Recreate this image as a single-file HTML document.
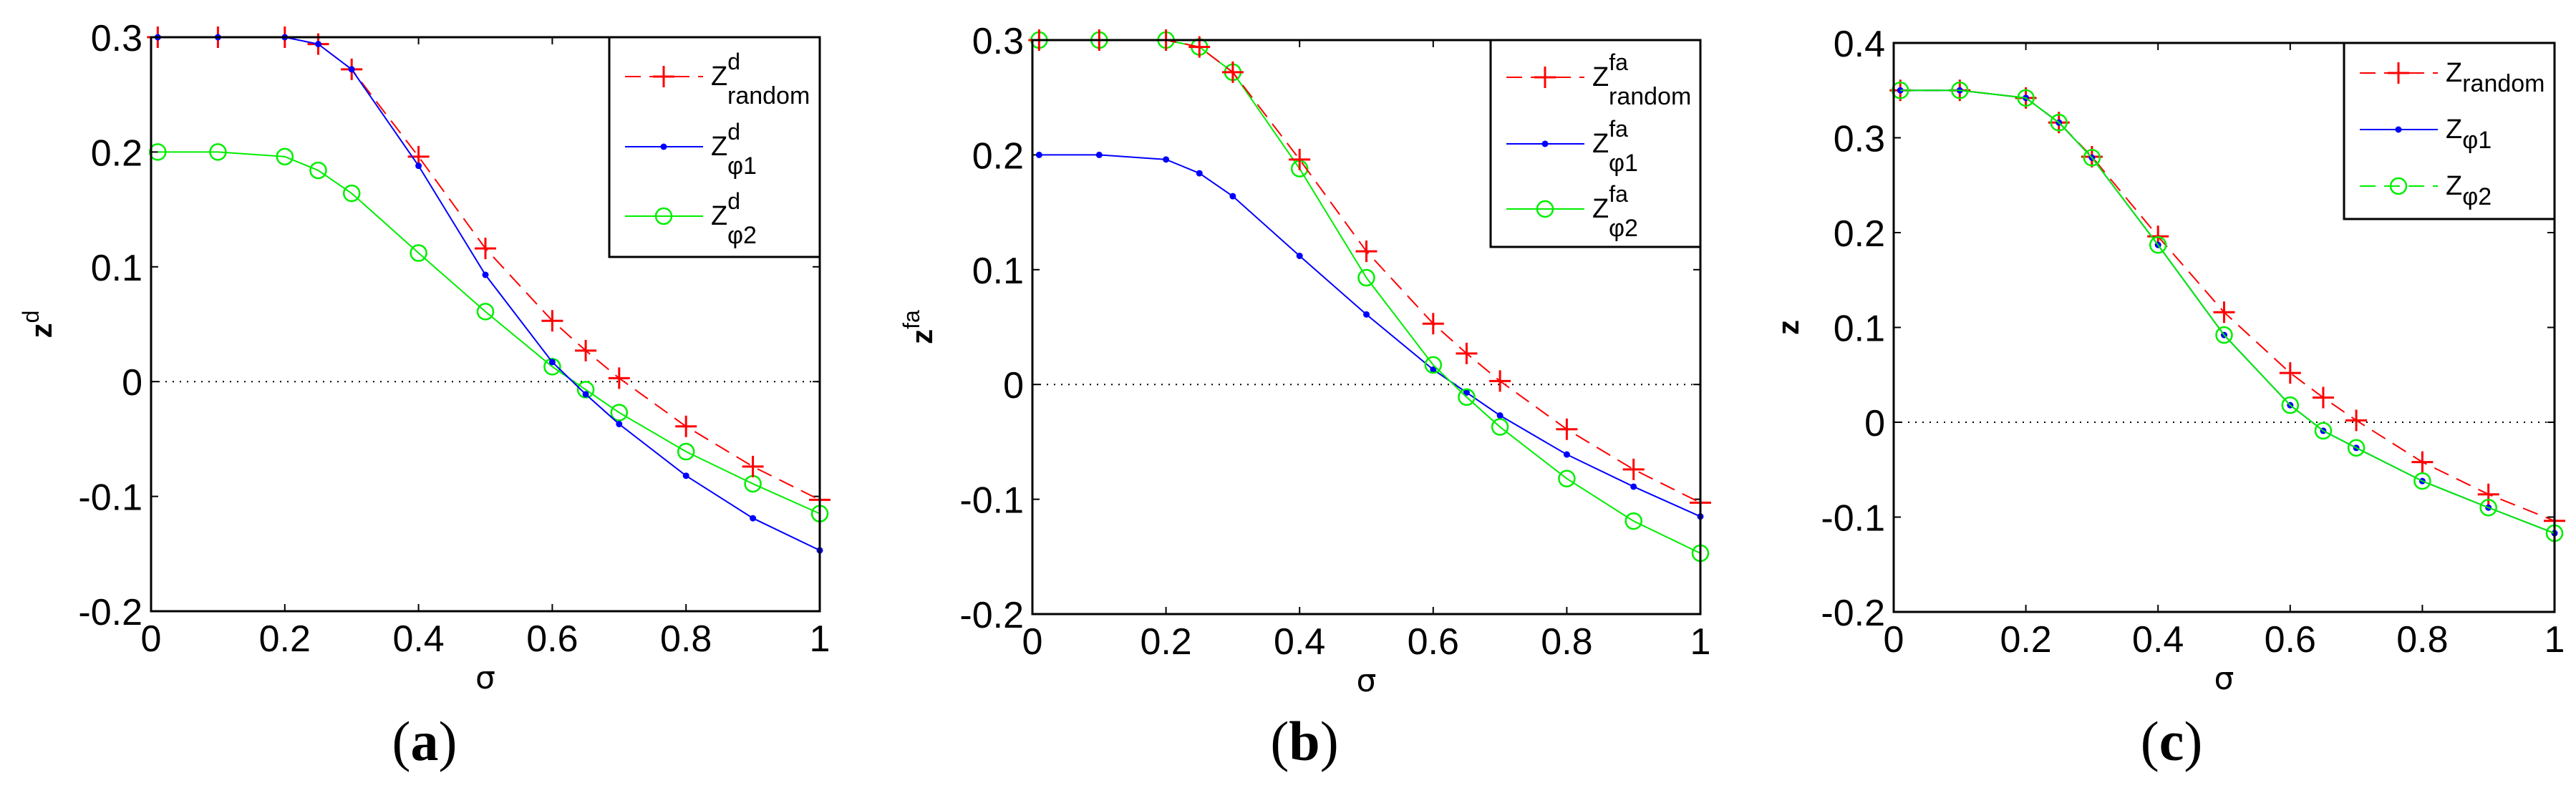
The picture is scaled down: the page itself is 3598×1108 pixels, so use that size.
<!DOCTYPE html>
<html><head><meta charset="utf-8"><style>
html,body{margin:0;padding:0;background:#fff;}
svg{display:block;}
text{font-family:"Liberation Sans",sans-serif;}
</style></head><body>
<svg id="fig" width="3598" height="1108" viewBox="0 0 3598 1108" xmlns="http://www.w3.org/2000/svg"></svg>
<script>
const sigma = [0.01,0.1,0.2,0.25,0.3,0.4,0.5,0.6,0.65,0.7,0.8,0.9,1];
const xTicks = [0,0.2,0.4,0.6,0.8,1];
const xTickLabels = ["0","0.2","0.4","0.6","0.8","1"];
const yTicksAB = [-0.2,-0.1,0,0.1,0.2,0.3];
const yTickLabelsAB = ["-0.2","-0.1","0","0.1","0.2","0.3"];
const yTicksC = [-0.2,-0.1,0,0.1,0.2,0.3,0.4];
const yTickLabelsC = ["-0.2","-0.1","0","0.1","0.2","0.3","0.4"];
const aRandom = [0.3,0.3,0.3,0.294,0.272,0.196,0.116,0.053,0.027,0.003,-0.039,-0.074,-0.103];
const aPhi1 = [0.3,0.3,0.3,0.294,0.272,0.188,0.093,0.017,-0.011,-0.037,-0.082,-0.119,-0.147];
const aPhi2 = [0.2,0.2,0.196,0.184,0.164,0.112,0.061,0.013,-0.007,-0.027,-0.061,-0.089,-0.115];
const bRandom = [0.3,0.3,0.3,0.294,0.272,0.196,0.116,0.053,0.027,0.003,-0.039,-0.074,-0.103];
const bPhi1 = [0.2,0.2,0.196,0.184,0.164,0.112,0.061,0.013,-0.007,-0.027,-0.061,-0.089,-0.115];
const bPhi2 = [0.3,0.3,0.3,0.294,0.272,0.188,0.093,0.017,-0.011,-0.037,-0.082,-0.119,-0.147];
const cRandom = [0.35,0.35,0.342,0.316,0.28,0.196,0.116,0.052,0.026,0.002,-0.042,-0.076,-0.104];
const cPhi1 = [0.35,0.35,0.342,0.316,0.279,0.187,0.092,0.018,-0.009,-0.027,-0.062,-0.09,-0.117];
const cPhi2 = [0.35,0.35,0.342,0.316,0.279,0.187,0.092,0.018,-0.009,-0.027,-0.062,-0.09,-0.117];

const NS="http://www.w3.org/2000/svg";
const svg=document.getElementById('fig');
function mk(tag,attrs,parent,txt){const e=document.createElementNS(NS,tag);for(const k in attrs)e.setAttribute(k,attrs[k]);if(txt!==undefined)e.textContent=txt;(parent||svg).appendChild(e);return e;}

function marker(g,kind,x,y,color){
  if(kind==='plus'){
    const p=mk('path',{d:`M${x-15},${y}H${x+15}M${x},${y-15}V${y+15}`,stroke:color,'stroke-width':3,fill:'none'},g);
    
  }else if(kind==='circle'){
    const c=mk('circle',{cx:x,cy:y,r:11,stroke:color,'stroke-width':2.5,fill:'none'},g);
    
  }else{
    const c=mk('circle',{cx:x,cy:y,r:4.5,fill:color},g);
    
  }
}

function panel(cfg){
  const g=mk('g',{});
  
  
  const L=cfg.L,R=cfg.R,T=cfg.T,B=cfg.B,ymin=cfg.ymin,ymax=cfg.ymax;
  const sx=v=>L+(v-0)*(R-L)/1;
  const sy=v=>B-(v-ymin)*(B-T)/(ymax-ymin);
  const z=mk('line',{x1:L,x2:R,y1:sy(0),y2:sy(0),stroke:'#000','stroke-width':2,'stroke-dasharray':'2,8'},g);
  
  xTicks.forEach((t,i)=>{
    const x=sx(t);
    mk('line',{x1:x,x2:x,y1:B,y2:B-10,stroke:'#000','stroke-width':2},g);
    mk('line',{x1:x,x2:x,y1:T,y2:T+10,stroke:'#000','stroke-width':2},g);
    const tx=mk('text',{x:x,y:B+56,'text-anchor':'middle','font-size':52},g,xTickLabels[i]);
    
  });
  cfg.yTicks.forEach((t,i)=>{
    const y=sy(t);
    mk('line',{x1:L,x2:L+10,y1:y,y2:y,stroke:'#000','stroke-width':2},g);
    mk('line',{x1:R,x2:R-10,y1:y,y2:y,stroke:'#000','stroke-width':2},g);
    const tx=mk('text',{x:L-12,y:y+19,'text-anchor':'end','font-size':52},g,cfg.yTickLabels[i]);
    
  });
  const series=[
    {vals:cfg.random,color:'#ff0000',dash:'22,12',mk:'plus',name:'series-random'},
    {vals:cfg.phi1,color:'#0000ff',dash:null,mk:'dot',name:'series-phi1'},
    {vals:cfg.phi2,color:'#00ee00',dash:null,mk:'circle',name:'series-phi2'}];
  const order=cfg.order||[0,1,2];
  order.forEach(k=>{
    const s=series[k];
    const sg=mk('g',{},g);
    
    const pts=s.vals.map((v,i)=>sx(sigma[i])+','+sy(v)).join(' ');
    const pl=mk('polyline',{points:pts,fill:'none',stroke:s.color,'stroke-width':2},sg);
    if(s.dash)pl.setAttribute('stroke-dasharray',s.dash);
    
    s.vals.forEach((v,i)=>marker(sg,s.mk,sx(sigma[i]),sy(v),s.color));
  });
  const fr=mk('rect',{x:L,y:T,width:R-L,height:B-T,fill:'none',stroke:'#000','stroke-width':3},g);
  
  const lg=mk('g',{},g);
  
  const lx=cfg.legX,lw=R-cfg.legX,lh=cfg.legH;
  mk('rect',{x:lx,y:T,width:lw,height:lh,fill:'#fff',stroke:'#000','stroke-width':3},lg);
  cfg.legRows.forEach((row,i)=>{
    const y=T+cfg.legRowY[i];
    const s=series[i];
    const e=mk('g',{},lg);
    
    const ln=mk('line',{x1:lx+22,x2:lx+131,y1:y,y2:y,stroke:s.color,'stroke-width':2},e);
    const dashed=(i===0)||(cfg.legDash2&&i===2);
    if(dashed)ln.setAttribute('stroke-dasharray','22,12');
    marker(e,s.mk,lx+76,y,s.color);
    const t=mk('text',{x:lx+142,y:y+12,'font-size':38},e);
    mk('tspan',{},t,'Z');
    if(row.sup){mk('tspan',{dy:-22,'font-size':32},t,row.sup);}
    const sub=mk('tspan',{'font-size':34},t,row.sub);
    if(row.sup){sub.setAttribute('x',lx+165);sub.setAttribute('dy',48);}else{sub.setAttribute('dy',14);}
  });
  const xl=mk('text',{x:(L+R)/2,y:B+108,'text-anchor':'middle','font-size':44,style:'font-family:"DejaVu Sans",sans-serif'},g,'σ');
  
  const yl=mk('text',{transform:`translate(${cfg.ylx},${(T+B)/2}) rotate(-90)`,'text-anchor':'middle','font-size':42,'font-weight':'bold'},g);
  mk('tspan',{},yl,'z');
  if(cfg.ysup)mk('tspan',{dy:-18,'font-size':32,'font-weight':'normal'},yl,cfg.ysup);
  
  const cap=mk('text',{x:cfg.capX,y:1062,'text-anchor':'middle','font-size':78,style:'font-family:"Liberation Serif",serif'},g);
  mk('tspan',{},cap,'(');
  mk('tspan',{'font-weight':'bold'},cap,cfg.cap);
  mk('tspan',{},cap,')');
  
}

panel({name:'panel-a',L:211,R:1145,T:52,B:854,ymin:-0.2,ymax:0.3,yTicks:yTicksAB,yTickLabels:yTickLabelsAB,
  random:aRandom,phi1:aPhi1,phi2:aPhi2,order:[2,0,1],legX:851,legH:307,legRowY:[55,153,250],
  legRows:[{sup:'d',sub:'random'},{sup:'d',sub:'φ1'},{sup:'d',sub:'φ2'}],ylx:72,ysup:'d',cap:'a',capX:593});
panel({name:'panel-b',L:1442,R:2375,T:56,B:858,ymin:-0.2,ymax:0.3,yTicks:yTicksAB,yTickLabels:yTickLabelsAB,
  random:bRandom,phi1:bPhi1,phi2:bPhi2,order:[1,2,0],legX:2082,legH:289,legRowY:[52,145,236],
  legRows:[{sup:'fa',sub:'random'},{sup:'fa',sub:'φ1'},{sup:'fa',sub:'φ2'}],ylx:1302,ysup:'fa',cap:'b',capX:1822});
panel({name:'panel-c',L:2645,R:3568,T:60,B:855,ymin:-0.2,ymax:0.4,yTicks:yTicksC,yTickLabels:yTickLabelsC,
  random:cRandom,phi1:cPhi1,phi2:cPhi2,order:[0,1,2],legX:3274,legH:246,legRowY:[42,121,200],legDash2:true,
  legRows:[{sub:'random'},{sub:'φ1'},{sub:'φ2'}],ylx:2512,cap:'c',capX:3033});
</script>
</body></html>
